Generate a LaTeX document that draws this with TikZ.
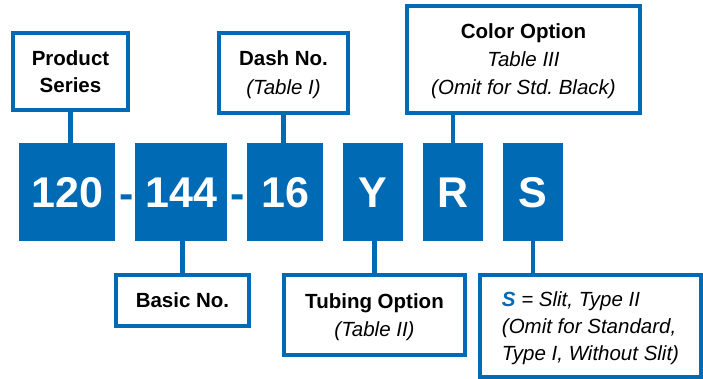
\documentclass[tikz,border=0pt]{standalone}
\usepackage{fontspec}
\setmainfont{Liberation Sans}
\definecolor{pblue}{RGB}{0,107,180}
\begin{document}
\begin{tikzpicture}[x=1pt,y=-1pt,
  blk/.style={fill=pblue,inner sep=0pt,minimum height=98pt,text=white,
    font=\fontsize{43}{43}\selectfont\bfseries,text height=31pt,text depth=0pt},
  hyph/.style={anchor=base,inner sep=0pt,text=pblue,font=\fontsize{43}{43}\selectfont\bfseries},
  lbl/.style={draw=pblue,line width=3.6pt,inner sep=0pt,align=center,fill=white,
    text depth=0pt,font=\fontsize{20.5}{28}\selectfont},
  conn/.style={draw=pblue,line width=4.2pt}]
\useasboundingbox (0,0) rectangle (703,379);
% number blocks
\node[blk,minimum width=96pt] (b120) at (67.3,192) {120};
\node[blk,minimum width=92pt] (b144) at (181.3,192) {144};
\node[blk,minimum width=76pt] (b16) at (285.3,192) {16};
\node[blk,minimum width=60pt] (bY) at (373.3,192) {Y};
\node[blk,minimum width=60pt] (bR) at (453.3,192) {R};
\node[blk,minimum width=60pt] (bS) at (533.3,192) {S};
\node[hyph] (h1) at (126.2,208) {-};
\node[hyph] (h2) at (238.1,208) {-};
% label boxes
\node[lbl,minimum width=115.4pt,minimum height=77.4pt,font=\fontsize{20.5}{27}\selectfont] (prod) at (70.5,71.5)
  {\textbf{Product}\\\textbf{Series}};
\node[lbl,minimum width=129.4pt,minimum height=80.4pt,font=\fontsize{20.5}{29}\selectfont] (dash) at (283.5,73)
  {\textbf{Dash No.}\\\textit{(Table I)}};
\node[lbl,minimum width=233.4pt,minimum height=107.4pt] (color) at (523.5,59.5)
  {\textbf{Color Option}\\\textit{Table III}\\\textit{(Omit for Std.\ Black)}};
\node[lbl,minimum width=133.4pt,minimum height=51.4pt] (basic) at (182.5,300.5)
  {\textbf{Basic No.}};
\node[lbl,minimum width=181.4pt,minimum height=80.4pt] (tubing) at (374.5,315)
  {\textbf{Tubing Option}\\\textit{(Table II)}};
\node[lbl,minimum width=221.4pt,minimum height=102.4pt,align=left,font=\fontsize{20.5}{27}\selectfont] (sbox) at (590.5,326)
  {\textcolor{pblue}{\textbf{\textit{S}}} \textit{= Slit, Type II}\\\textit{(Omit for Standard,}\\\textit{Type I, Without Slit)}};
% connectors
\draw[conn] (prod.south) -- (prod.south |- b120.north);
\draw[conn] (dash.south) -- (dash.south |- b16.north);
\draw[conn] (bR.north) -- (bR.north |- color.south);
\draw[conn] (basic.north) -- (basic.north |- b144.south);
\draw[conn] (tubing.north) -- (tubing.north |- bY.south);
\draw[conn] (bS.south) -- (bS.south |- sbox.north);
\end{tikzpicture}
\end{document}
